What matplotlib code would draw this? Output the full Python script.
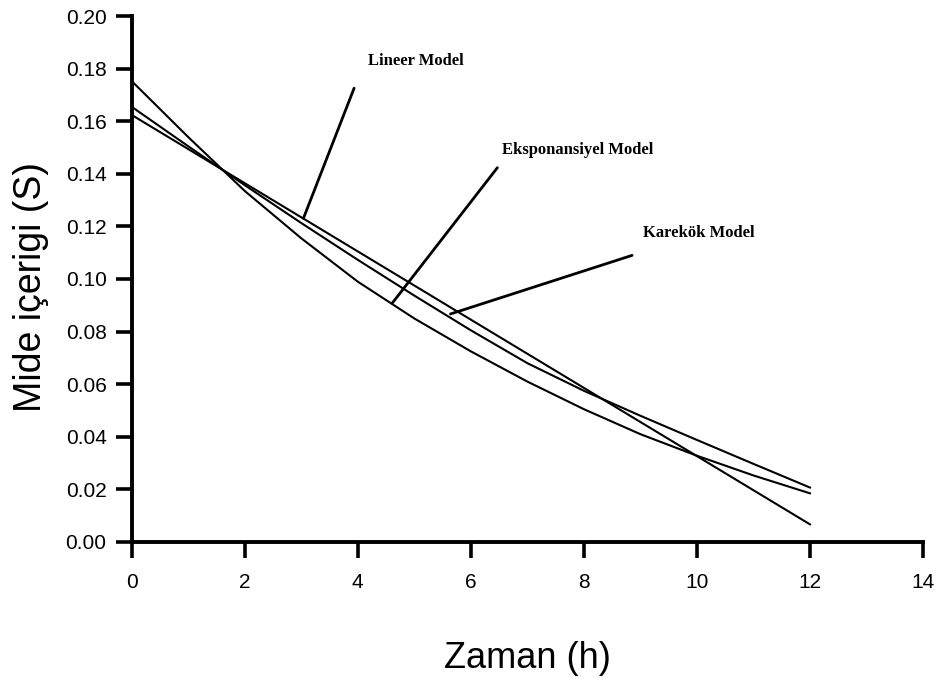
import matplotlib
matplotlib.use("Agg")
import matplotlib.pyplot as plt
from matplotlib import font_manager

# ---- data ----
t_lin = [0, 12]
s_lin = [0.1624, 0.0067]

t_hours = list(range(13))
s_exp = [0.1753, 0.154, 0.1335, 0.1155, 0.099, 0.085, 0.0725, 0.061, 0.0505,
         0.041, 0.0328, 0.0253, 0.0185]
s_sqrt = [0.1655, 0.1505, 0.1357, 0.1213, 0.1073, 0.0937, 0.0805, 0.068, 0.0575,
          0.048, 0.0388, 0.0297, 0.0207]

labels = ["Lineer Model", "Eksponansiyel Model", "Karekök Model"]
x_ticks = [0, 2, 4, 6, 8, 10, 12, 14]
y_ticks = [0.00, 0.02, 0.04, 0.06, 0.08, 0.10, 0.12, 0.14, 0.16, 0.18, 0.20]

names = {f.name for f in font_manager.fontManager.ttflist}
narrow = "Liberation Sans Narrow" if "Liberation Sans Narrow" in names else "Liberation Sans"

fig = plt.figure(figsize=(9.4, 6.78), dpi=100)
ax = fig.add_axes([0.140, 0.2006, 0.842, 0.7758])

lw = 1.5
ax.plot(t_lin, s_lin, color="black", lw=lw)
ax.plot(t_hours, s_exp, color="black", lw=lw)
ax.plot(t_hours, s_sqrt, color="black", lw=lw)

ax.set_xlim(0, 14)
ax.set_ylim(0, 0.20)
ax.set_xticks(x_ticks)
ax.set_yticks(y_ticks)
ax.set_xticklabels([str(v) for v in x_ticks], fontfamily=narrow, fontsize=15)
ax.set_yticklabels([f"{v:.2f}" for v in y_ticks], fontfamily=narrow, fontsize=15)

for s in ["top", "right"]:
    ax.spines[s].set_visible(False)
for s in ["left", "bottom"]:
    ax.spines[s].set_linewidth(2.8)
ax.tick_params(direction="out", length=11.5, width=2.6)
ax.tick_params(axis="x", pad=11)
ax.tick_params(axis="y", pad=6.5)

ax.set_xlabel("Zaman (h)", fontfamily=narrow, fontsize=26, labelpad=35)
ax.set_ylabel("Mide içerigi (S)", fontfamily="Liberation Sans", fontsize=27, labelpad=12)
ax.yaxis.label.set_y(0.485)

# annotations
ann = dict(fontfamily="Liberation Serif", fontweight="bold", fontsize=12,
           va="center", ha="left")
ax.annotate(labels[0], xy=(3.04, 0.1231), xytext=(4.19, 0.1829),
            arrowprops=dict(arrowstyle="-", lw=2, color="black",
                            shrinkA=0, shrinkB=0, relpos=(-0.15, -1.2)), **ann)
ax.annotate(labels[1], xy=(4.61, 0.0908), xytext=(6.55, 0.149),
            arrowprops=dict(arrowstyle="-", lw=2, color="black",
                            shrinkA=0, shrinkB=0, relpos=(-0.03, -0.6)), **ann)
ax.annotate(labels[2], xy=(5.64, 0.0867), xytext=(9.05, 0.1175),
            arrowprops=dict(arrowstyle="-", lw=2, color="black",
                            shrinkA=0, shrinkB=0, relpos=(-0.1, -0.9)), **ann)

fig.savefig("out.png", dpi=100)
